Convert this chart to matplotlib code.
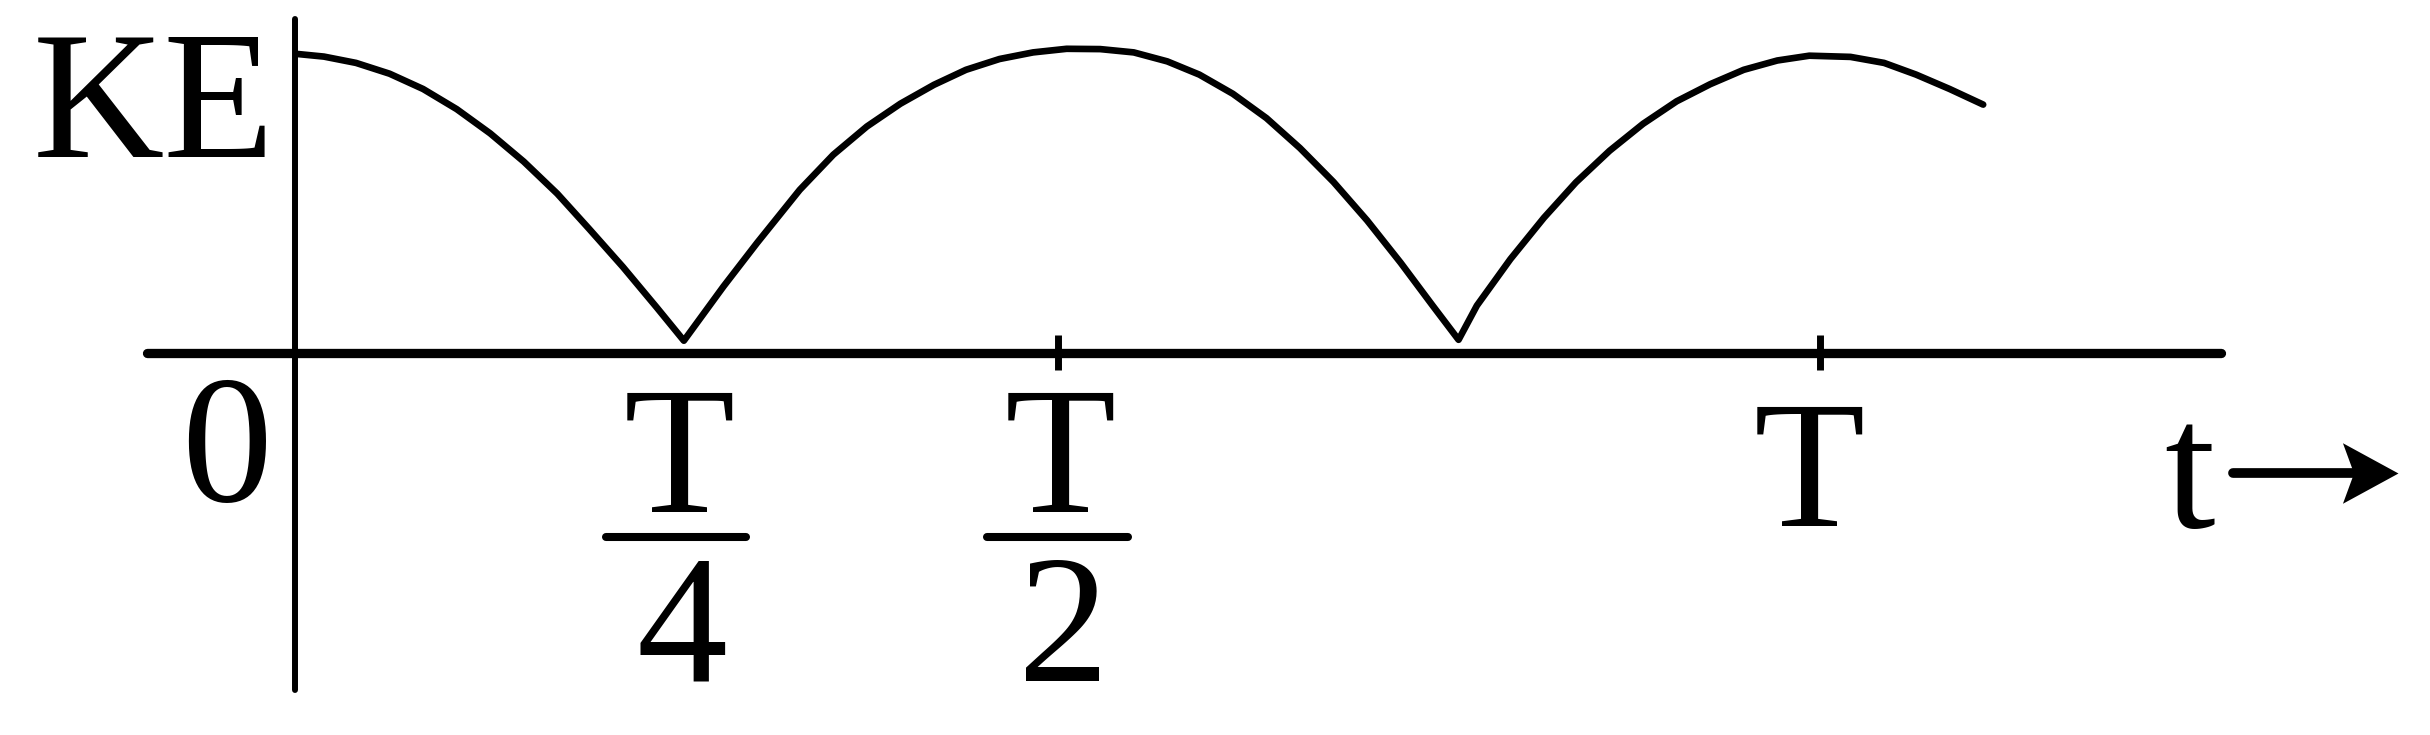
import glob
import os
import matplotlib
import matplotlib.pyplot as plt
from matplotlib import font_manager
from matplotlib.font_manager import FontProperties
from matplotlib.path import Path

# time in units of T, kinetic energy in units of its maximum
t_vals = [0.001, 0.019, 0.040, 0.062, 0.084, 0.106, 0.128, 0.150, 0.172, 0.193,
          0.215, 0.237, 0.255,
          0.281, 0.303, 0.331, 0.353, 0.375, 0.397, 0.419, 0.440, 0.462, 0.484,
          0.506, 0.528, 0.550, 0.572, 0.593, 0.615, 0.637, 0.659, 0.681, 0.703,
          0.725, 0.746, 0.763,
          0.775, 0.797, 0.819, 0.840, 0.862, 0.884, 0.906, 0.928, 0.950, 0.972,
          0.993, 1.020, 1.042, 1.063, 1.085, 1.107]
ke_vals = [0.997, 0.988, 0.967, 0.931, 0.880, 0.813, 0.732, 0.638, 0.531, 0.413,
           0.287, 0.153, 0.041,
           0.222, 0.367, 0.544, 0.661, 0.755, 0.831, 0.894, 0.944, 0.980, 1.002,
           1.014, 1.013, 1.002, 0.972, 0.928, 0.864, 0.783, 0.683, 0.570, 0.442,
           0.301, 0.158, 0.044,
           0.158, 0.313, 0.451, 0.569, 0.674, 0.764, 0.839, 0.896, 0.944, 0.975,
           0.991, 0.987, 0.967, 0.928, 0.880, 0.828]

tick_marks = [0.5, 1.0]
tick_pos = [0.0, 0.25, 0.5, 1.0]
tick_labels = ['0', 'T/4', 'T/2', 'T']

# Times-like face: Liberation Serif if it is there, else the STIX file shipped with matplotlib
files = sorted(glob.glob('/usr/share/fonts/**/LiberationSerif-Regular.ttf', recursive=True))
files += [f.fname for f in font_manager.fontManager.ttflist
          if f.name == 'Liberation Serif' and f.style == 'normal' and 'Bold' not in f.fname]
files.append(os.path.join(matplotlib.get_data_path(), 'fonts', 'ttf', 'STIXGeneral.ttf'))
font_file = next(f for f in files if os.path.exists(f))
font_manager.fontManager.addfont(font_file)
plt.rcParams['font.family'] = [FontProperties(fname=font_file).get_name(), 'DejaVu Serif']
prop = FontProperties(fname=font_file, size=131)

fig = plt.figure(figsize=(24.3, 7.35), dpi=100)
ax = fig.add_axes([0, 0, 1, 1])
ax.set_xlim(-295 / 1525, (2430 - 295) / 1525)
ax.set_ylim(-382 / 300, 353 / 300)
ax.axis('off')

# axes drawn by hand like the sketch
ax.plot([-0.097, 1.263], [0, 0], color='black', lw=6.7, solid_capstyle='round')
ax.plot([0, 0], [-1.123, 1.113], color='black', lw=4.3, solid_capstyle='round')
ax.vlines(tick_marks, -0.057, 0.06, color='black', lw=5)

ax.plot(t_vals, ke_vals, color='black', lw=4.8,
        solid_capstyle='round', solid_joinstyle='round')

for pos, lab in zip(tick_pos, tick_labels):
    if '/' in lab:
        num, den = lab.split('/')
        ax.text(pos + 0.002, -0.53, num, ha='center', va='baseline', fontproperties=prop)
        ax.plot([pos - 0.046, pos + 0.046], [-0.613, -0.613], color='black',
                lw=5.8, solid_capstyle='round')
        ax.text(pos + 0.004, -1.093, den, ha='center', va='baseline', fontproperties=prop)
    elif lab == '0':
        ax.text(pos - 0.045, -0.493, lab, ha='center', va='baseline', fontproperties=prop)
    else:
        ax.text(pos - 0.007, -0.575, lab, ha='center', va='baseline', fontproperties=prop)

ax.text(-0.172, 0.653, 'KE', ha='left', va='baseline', fontproperties=prop)

# "t ->" axis name, arrow with a notched head
ax.text(1.226, -0.58, 't', ha='left', va='baseline', fontproperties=prop)
head = Path([(0, 0), (-1, 0.545), (-0.8, 0), (-1, -0.545), (0, 0)],
            [Path.MOVETO, Path.LINETO, Path.LINETO, Path.LINETO, Path.CLOSEPOLY])
ax.plot([1.271, 1.360], [-0.40, -0.40], color='black', lw=7, solid_capstyle='round')
ax.plot([1.379], [-0.40], marker=head, markersize=80, color='black', mew=0)

fig.savefig('out.png', dpi=100)
